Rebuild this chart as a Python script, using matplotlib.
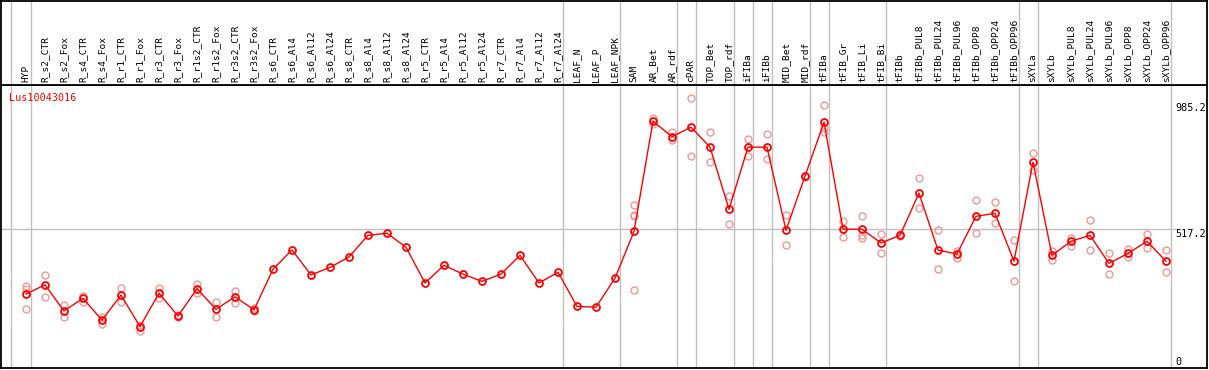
import matplotlib
matplotlib.use('Agg')
import matplotlib.pyplot as plt

# --- data ---
samples = ['HYP', 'R_s2_CTR', 'R_s2_Fox', 'R_s4_CTR', 'R_s4_Fox', 'R_r1_CTR', 'R_r1_Fox',
           'R_r3_CTR', 'R_r3_Fox', 'R_r1s2_CTR', 'R_r1s2_Fox', 'R_r3s2_CTR', 'R_r3s2_Fox',
           'R_s6_CTR', 'R_s6_Al4', 'R_s6_Al12', 'R_s6_Al24', 'R_s8_CTR', 'R_s8_Al4',
           'R_s8_Al12', 'R_s8_Al24', 'R_r5_CTR', 'R_r5_Al4', 'R_r5_Al12', 'R_r5_Al24',
           'R_r7_CTR', 'R_r7_Al4', 'R_r7_Al12', 'R_r7_Al24', 'LEAF_N', 'LEAF_P', 'LEAF_NPK',
           'SAM', 'AR_Bet', 'AR_rdf', 'cPAR', 'TOP_Bet', 'TOP_rdf', 'iFIBa', 'iFIBb',
           'MID_Bet', 'MID_rdf', 'tFIBa', 'tFIB_Gr', 'tFIB_Li', 'tFIB_Bi', 'tFIBb',
           'tFIBb_PUL8', 'tFIBb_PUL24', 'tFIBb_PUL96', 'tFIBb_OPP8', 'tFIBb_OPP24',
           'tFIBb_OPP96', 'sXYLa', 'sXYLb', 'sXYLb_PUL8', 'sXYLb_PUL24', 'sXYLb_PUL96',
           'sXYLb_OPP8', 'sXYLb_OPP24', 'sXYLb_OPP96']

means = [275, 309, 212, 259, 178, 271, 154, 278, 193, 295, 218, 265, 216,
         367, 439, 346, 374, 413, 493, 501, 449, 316, 382, 349, 322, 349, 419, 316, 356,
         229, 226, 334,
         508, 917, 860, 895, 821, 590, 821, 821, 512, 713,
         914, 516, 516, 465, 493,
         650, 438, 424, 564, 575, 397,
         765, 419, 471, 493, 389, 426, 471, 397]

replicates = [[305, 293, 218], [346, 265], [233, 191], [268, 247], [191, 164],
              [296, 244], [160, 139], [296, 259], [196, 189], [312, 280],
              [245, 191], [287, 243], [223, 211],
              [], [], [], [], [], [], [], [], [], [], [], [], [], [], [], [],
              [], [], [],
              [605, 569, 565, 290], [931, 907], [876, 848], [1003, 787], [876, 765],
              [641, 534], [850, 787], [869, 776], [568, 456], [715, 709],
              [977, 891, 879], [548, 486], [565, 493, 482], [498, 426], [490, 497],
              [705, 595], [512, 367], [436, 408], [624, 503], [616, 538], [475, 322],
              [798, 736], [436, 402], [484, 455], [549, 438], [426, 348], [441, 412],
              [498, 445], [438, 356]]

# group separators sit just after these samples
separators = [0, 28, 31, 34, 35, 37, 38, 39, 41, 42, 45, 52, 53, 60]

gene = 'Lus10043016'
y_ticks = [985.2, 517.2, 0]
y_tick_labels = ['985.2', '517.2', '0']

W, H = 1209, 370
plt.rcParams['font.family'] = ['DejaVu Sans Mono']
fig = plt.figure(figsize=(W / 100, H / 100), dpi=100)

head_px = 85
left_px, right_px = 1, 1207
ax = fig.add_axes([left_px / W, 2 / H, (right_px - left_px) / W, (368 - head_px) / H])
hx = fig.add_axes([left_px / W, (H - head_px) / H, (right_px - left_px) / W, (head_px - 0.5) / H])

x0, step = 26, 19
xlim = ((left_px - x0) / step, (right_px - x0) / step)
for a in (ax, hx):
    a.set_xlim(xlim)
    a.set_xticks([])
    a.set_yticks([])
    for s in a.spines.values():
        s.set_linewidth(1.3)
        s.set_color('black')
    a.axvline(-0.8, color='#c0c0c0', lw=1.0, zorder=0)
    for b in separators:
        a.axvline(b + 0.25, color='#c0c0c0', lw=1.0, zorder=0)

ax.set_ylim(0, 1052)
hx.set_ylim(0, head_px)

# light line at the middle value
ax.axhline(517.2, xmin=0, xmax=(1177 - left_px) / (right_px - left_px),
           color='#c0c0c0', lw=1.0, zorder=0)

xs = list(range(len(samples)))

# replicate points
for i, reps in enumerate(replicates):
    if reps:
        ax.plot([i] * len(reps), reps, 'o', mfc='none', mec='#f09898', ms=5.0, mew=1.0, zorder=2)

# mean profile
ax.plot(xs, means, '-', color='red', lw=1.0, zorder=3)
ax.plot(xs, means, 'o', mfc='none', mec='red', ms=5.0, mew=1.3, zorder=4)

# sample labels in the header
for i, name in enumerate(samples):
    hx.text(i, 3, name, rotation=90, ha='center', va='bottom', fontsize=6.8, color='black')

ax.text((9 - left_px) / (right_px - left_px), 0.972, gene, transform=ax.transAxes,
        color='red', fontsize=7.3, ha='left', va='top')

# value labels on the right
tx = (1175 - x0) / step
for val, lab in zip(y_ticks, y_tick_labels):
    if val == 0:
        ax.text(tx, 4, lab, fontsize=7.3, ha='left', va='bottom')
    else:
        ax.text(tx, val, lab, fontsize=7.3, ha='left', va='top')

fig.savefig('out.png', dpi=100)
